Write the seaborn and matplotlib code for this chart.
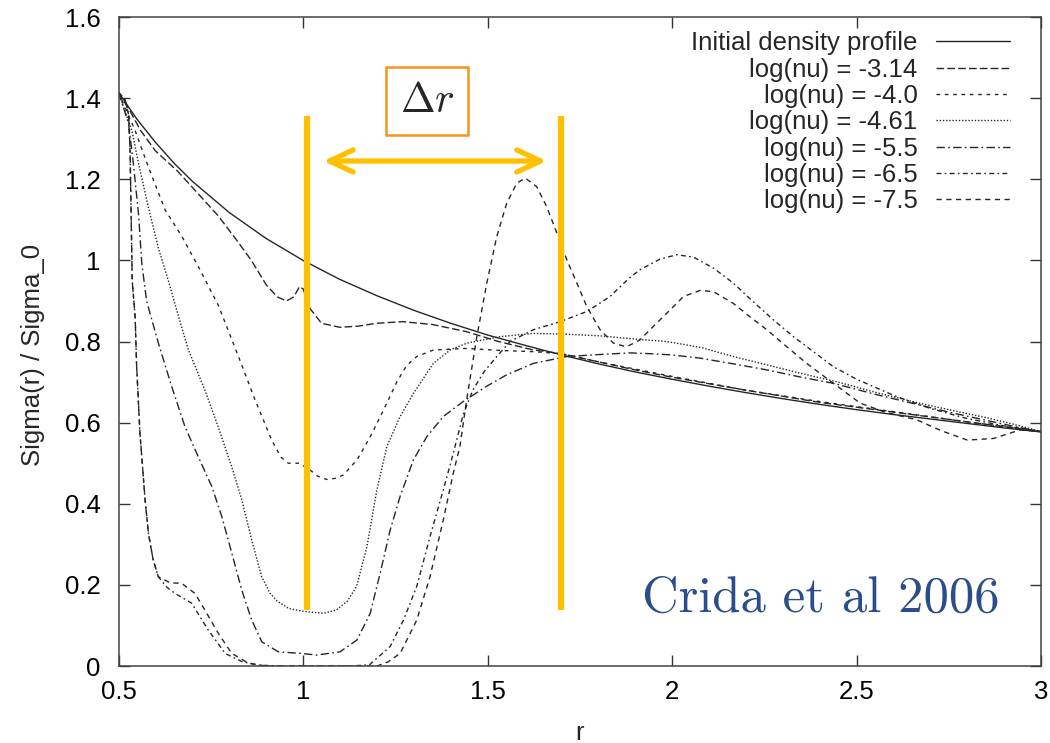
import pandas as pd
import seaborn as sns
import matplotlib.pyplot as plt
from matplotlib import ticker

# curve values
labels = ['Initial density profile', 'log(nu) = -3.14', 'log(nu) = -4.0', 'log(nu) = -4.61',
          'log(nu) = -5.5', 'log(nu) = -6.5', 'log(nu) = -7.5']

r_init = [0.5, 0.55, 0.6, 0.65, 0.7, 0.8, 0.9, 1.0, 1.1, 1.2, 1.3, 1.4, 1.5, 1.6, 1.7, 1.8, 1.9,
          2.0, 2.1, 2.2, 2.3, 2.4, 2.5, 2.6, 2.7, 2.8, 2.9, 3.0]
sigma_init = [1.414, 1.348, 1.291, 1.240, 1.195, 1.118, 1.054, 1.0, 0.953, 0.913, 0.877, 0.845,
              0.816, 0.791, 0.767, 0.745, 0.725, 0.707, 0.690, 0.674, 0.659, 0.645, 0.632, 0.620,
              0.609, 0.598, 0.587, 0.577]

r_314 = [0.5, 0.53, 0.56, 0.6, 0.66, 0.72, 0.77, 0.82, 0.86, 0.9, 0.93, 0.955, 0.975, 0.99, 1.0,
         1.02, 1.05, 1.1, 1.15, 1.2, 1.27, 1.35, 1.44, 1.53, 1.62, 1.7, 1.8, 1.9, 2.0, 2.2, 2.4,
         2.6, 2.8, 3.0]
sigma_314 = [1.414, 1.37, 1.32, 1.27, 1.22, 1.16, 1.11, 1.05, 1.0, 0.94, 0.91, 0.90, 0.91, 0.935,
             0.93, 0.88, 0.845, 0.835, 0.838, 0.845, 0.849, 0.842, 0.825, 0.80, 0.78, 0.77, 0.75,
             0.73, 0.712, 0.68, 0.65, 0.626, 0.602, 0.578]

r_40 = [0.5, 0.545, 0.581, 0.626, 0.671, 0.716, 0.77, 0.825, 0.87, 0.915, 0.94, 0.96, 0.99, 1.019,
        1.04, 1.064, 1.09, 1.109, 1.146, 1.182, 1.218, 1.254, 1.28, 1.308, 1.353, 1.444, 1.534,
        1.624, 1.7, 1.8, 2.0, 2.2, 2.4, 2.6, 2.8, 3.0]
sigma_40 = [1.414, 1.32, 1.23, 1.125, 1.06, 0.985, 0.89, 0.763, 0.656, 0.557, 0.515, 0.50, 0.50,
            0.483, 0.468, 0.46, 0.463, 0.471, 0.508, 0.565, 0.631, 0.70, 0.74, 0.763, 0.779, 0.783,
            0.778, 0.775, 0.77, 0.75, 0.714, 0.68, 0.652, 0.627, 0.602, 0.578]

r_461 = [0.5, 0.536, 0.554, 0.581, 0.608, 0.635, 0.66, 0.689, 0.734, 0.77, 0.807, 0.834, 0.861,
         0.888, 0.91, 0.93, 0.961, 1.0, 1.055, 1.09, 1.12, 1.145, 1.173, 1.2, 1.227, 1.263, 1.299,
         1.353, 1.4, 1.444, 1.534, 1.624, 1.715, 1.805, 1.9, 1.986, 2.08, 2.166, 2.25, 2.347,
         2.45, 2.55, 2.67, 2.76, 2.853, 2.93, 3.0]
sigma_461 = [1.414, 1.32, 1.24, 1.13, 1.03, 0.95, 0.87, 0.78, 0.68, 0.59, 0.49, 0.41, 0.31, 0.22,
             0.18, 0.16, 0.142, 0.135, 0.13, 0.138, 0.16, 0.196, 0.294, 0.434, 0.541, 0.615,
             0.672, 0.746, 0.78, 0.796, 0.812, 0.82, 0.818, 0.814, 0.806, 0.80, 0.785, 0.763,
             0.744, 0.722, 0.70, 0.675, 0.648, 0.63, 0.612, 0.595, 0.578]

r_55 = [0.5, 0.527, 0.54, 0.554, 0.563, 0.576, 0.608, 0.644, 0.68, 0.716, 0.753, 0.78, 0.807,
        0.834, 0.861, 0.888, 0.933, 0.996, 1.037, 1.1, 1.146, 1.182, 1.209, 1.236, 1.263, 1.299,
        1.335, 1.38, 1.434, 1.498, 1.552, 1.624, 1.715, 1.805, 1.886, 1.94, 2.0, 2.076, 2.166,
        2.257, 2.35, 2.437, 2.55, 2.65, 2.75, 2.85, 2.93, 3.0]
sigma_55 = [1.414, 1.338, 1.24, 1.116, 0.993, 0.90, 0.796, 0.689, 0.59, 0.516, 0.442, 0.368,
            0.278, 0.187, 0.113, 0.06, 0.035, 0.031, 0.027, 0.035, 0.064, 0.13, 0.229, 0.335,
            0.418, 0.508, 0.565, 0.615, 0.652, 0.69, 0.718, 0.746, 0.763, 0.768, 0.772, 0.77,
            0.767, 0.759, 0.745, 0.73, 0.712, 0.697, 0.67, 0.648, 0.626, 0.606, 0.59, 0.578]

r_65 = [0.5, 0.518, 0.527, 0.531, 0.534, 0.537, 0.545, 0.549, 0.558, 0.572, 0.581, 0.594, 0.608,
        0.63, 0.653, 0.698, 0.743, 0.789, 0.834, 0.88, 0.95, 1.05, 1.128, 1.18, 1.236, 1.272,
        1.308, 1.344, 1.38, 1.407, 1.434, 1.46, 1.49, 1.525, 1.561, 1.624, 1.697, 1.769, 1.805,
        1.832, 1.859, 1.886, 1.913, 1.967, 2.013, 2.058, 2.112, 2.166, 2.22, 2.275, 2.329, 2.383,
        2.437, 2.5, 2.609, 2.7, 2.8, 2.9, 3.0]
sigma_65 = [1.414, 1.396, 1.36, 1.28, 1.12, 0.95, 0.86, 0.74, 0.574, 0.409, 0.327, 0.261, 0.22,
            0.195, 0.179, 0.155, 0.089, 0.031, 0.011, 0.002, 0.0, 0.0, 0.0, 0.003, 0.048, 0.113,
            0.196, 0.319, 0.434, 0.524, 0.62, 0.68, 0.725, 0.763, 0.80, 0.829, 0.849, 0.874, 0.895,
            0.911, 0.935, 0.958, 0.977, 1.003, 1.014, 1.008, 0.981, 0.944, 0.898, 0.853, 0.812,
            0.775, 0.738, 0.707, 0.664, 0.635, 0.61, 0.592, 0.578]

r_75 = [0.5, 0.518, 0.527, 0.531, 0.534, 0.537, 0.545, 0.549, 0.558, 0.572, 0.581, 0.594, 0.608,
        0.64, 0.671, 0.707, 0.734, 0.77, 0.807, 0.852, 0.9, 1.0, 1.1, 1.2, 1.23, 1.263, 1.308,
        1.344, 1.38, 1.407, 1.425, 1.444, 1.471, 1.498, 1.525, 1.552, 1.579, 1.602, 1.633, 1.66,
        1.688, 1.715, 1.742, 1.769, 1.805, 1.841, 1.877, 1.913, 1.949, 1.986, 2.031, 2.076,
        2.112, 2.166, 2.211, 2.257, 2.311, 2.365, 2.437, 2.51, 2.58, 2.663, 2.73, 2.8, 2.871,
        2.943, 3.0]
sigma_75 = [1.414, 1.396, 1.36, 1.28, 1.12, 0.95, 0.86, 0.74, 0.574, 0.409, 0.327, 0.261, 0.22,
            0.205, 0.204, 0.179, 0.138, 0.081, 0.031, 0.007, 0.0, 0.0, 0.0, 0.0, 0.01, 0.031,
            0.113, 0.22, 0.36, 0.475, 0.541, 0.66, 0.812, 0.944, 1.059, 1.141, 1.19, 1.203,
            1.182, 1.133, 1.067, 1.001, 0.944, 0.886, 0.829, 0.796, 0.787, 0.804, 0.837, 0.87,
            0.911, 0.926, 0.923, 0.894, 0.861, 0.829, 0.787, 0.746, 0.697, 0.648, 0.625, 0.607,
            0.58, 0.557, 0.561, 0.582, 0.578]

x_ticks = [0.5, 1, 1.5, 2, 2.5, 3]
y_ticks = [0, 0.2, 0.4, 0.6, 0.8, 1.0, 1.2, 1.4, 1.6]

# annotation (gap width marker)
gap_edges = [1.01, 1.70]
gap_bottom, gap_top = 0.138, 1.356
arrow_y = 1.245

r_lists = [r_init, r_314, r_40, r_461, r_55, r_65, r_75]
s_lists = [sigma_init, sigma_314, sigma_40, sigma_461, sigma_55, sigma_65, sigma_75]
df = pd.concat([pd.DataFrame({'r': r, 'sigma': s, 'profile': lab})
                for lab, r, s in zip(labels, r_lists, s_lists)], ignore_index=True)

dashes = {
    labels[0]: '',
    labels[1]: (5.5, 2.3),
    labels[2]: (2.6, 3.4),
    labels[3]: (1.0, 1.3),
    labels[4]: (6, 2.4, 1.2, 2.4),
    labels[5]: (3.5, 2.4, 1.2, 2.4),
    labels[6]: (3.8, 3.2),
}
palette = {lab: '#262626' for lab in labels}

sns.set_theme(style='ticks')
plt.rcParams['font.family'] = ['Liberation Sans', 'DejaVu Sans']
plt.rcParams['mathtext.fontset'] = 'cm'
fs = 18.5

fig = plt.figure(figsize=(10.5, 7.43), dpi=100)
ax = fig.add_axes([0.1129, 0.1036, 0.8786, 0.8735])

sns.lineplot(data=df, x='r', y='sigma', hue='profile', style='profile', hue_order=labels,
             style_order=labels, dashes=dashes, palette=palette, estimator=None, sort=False,
             linewidth=1.0, ax=ax)

ax.set_xlim(0.5, 3)
ax.set_ylim(0, 1.6)
ax.set_xticks(x_ticks)
ax.set_yticks(y_ticks)
ax.xaxis.set_major_formatter(ticker.FormatStrFormatter('%g'))
ax.yaxis.set_major_formatter(ticker.FormatStrFormatter('%g'))
ax.tick_params(direction='in', length=8, width=1, top=True, right=True, labelsize=fs,
               colors='#333333', labelcolor='black')
ax.tick_params(axis='y', pad=13)
ax.tick_params(axis='x', pad=10)
for sp in ax.spines.values():
    sp.set_linewidth(1.1)
    sp.set_color('#444444')
ax.set_xlabel('r', fontsize=fs, labelpad=12)
ax.set_ylabel('Sigma(r) / Sigma_0', fontsize=fs, labelpad=14, y=0.48)

handles = ax.get_legend().legend_handles
texts = [t.get_text() for t in ax.get_legend().get_texts()]
ax.legend(handles, texts, loc='upper right', bbox_to_anchor=(0.9664, 0.978), frameon=False,
          markerfirst=False, fontsize=fs, handlelength=2.9, handletextpad=0.7,
          labelspacing=0.09, borderpad=0, borderaxespad=0)

# orange gap markers
ax.vlines(gap_edges, gap_bottom, gap_top, colors='#FFC000', linewidth=4.5, zorder=5)
ax.annotate('', xy=(1.055, arrow_y), xytext=(1.66, arrow_y),
            arrowprops=dict(arrowstyle='<->,head_length=1.7,head_width=0.8', color='#FFC000',
                            lw=3.8, mutation_scale=10, shrinkA=0, shrinkB=0), zorder=6)
ax.text(1.336, 1.393, r'$\Delta r$', fontsize=30, ha='center', va='center', zorder=7,
        bbox=dict(boxstyle='square,pad=0.33', fc='white', ec='#F7941D', lw=1.8))
ax.text(1.919, 0.133, 'Crida et al 2006', family='cmr10', fontsize=36.5, color='#2B4D8C',
        ha='left', va='baseline', zorder=7)

fig.savefig('out.png', dpi=100)
